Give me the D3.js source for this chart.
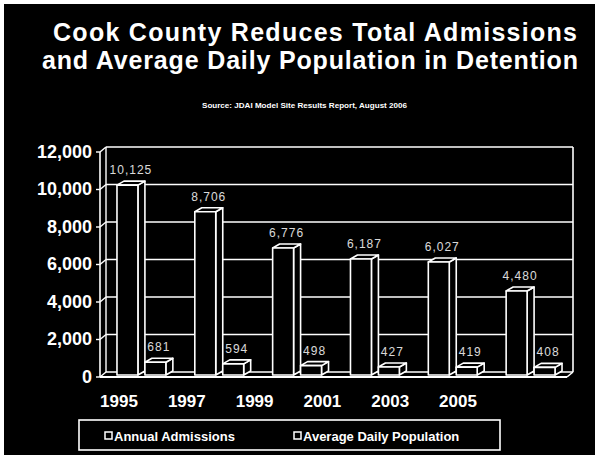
<!DOCTYPE html>
<html>
<head>
<meta charset="utf-8">
<script src="https://cdn.jsdelivr.net/npm/d3@7/dist/d3.min.js"></script>
<style>
  html, body { margin: 0; padding: 0; background: #000; }
  svg { display: block; }
  text { font-family: "Liberation Sans", Arial, sans-serif; fill: #fff; }
</style>
</head>
<body>
<svg id="chart" width="595" height="455"></svg>
<script>
// Cook County detention figures, by year
const years = ["1995", "1997", "1999", "2001", "2003", "2005"];
const admissions = [10125, 8706, 6776, 6187, 6027, 4480];
const avgDaily = [681, 594, 498, 427, 419, 408];
const seriesNames = ["Annual Admissions", "Average Daily Population"];
const yTicks = [0, 2000, 4000, 6000, 8000, 10000, 12000];

const titleLines = [
  "Cook County Reduces Total Admissions",
  "and Average Daily Population in Detention"
];
const sourceNote = "Source: JDAI Model Site Results Report, August 2006";

const svg = d3.select("#chart");
const W = 595, H = 455;

svg.append("rect").attr("width", W).attr("height", H).attr("fill", "#000");
// white page edge along top and left
svg.append("rect").attr("x", 0).attr("y", 0).attr("width", W).attr("height", 4).attr("fill", "#fff");
svg.append("rect").attr("x", 0).attr("y", 0).attr("width", 4).attr("height", H).attr("fill", "#fff");

// Title
const titleSpecs = [{x: 53, w: 524, y: 41}, {x: 42, w: 536, y: 69}];
titleLines.forEach((t, i) => {
  svg.append("text")
    .attr("x", titleSpecs[i].x).attr("y", titleSpecs[i].y)
    .attr("textLength", titleSpecs[i].w).attr("lengthAdjust", "spacing")
    .style("font-size", "25px").style("font-weight", "bold")
    .text(t);
});
svg.append("text")
  .attr("x", 202).attr("y", 108)
  .attr("textLength", 205).attr("lengthAdjust", "spacingAndGlyphs")
  .style("font-size", "8px").style("font-weight", "bold")
  .text(sourceNote);

// 3D geometry: back wall shifted right/up from the front by (dx, dy)
const dx = 6, dy = 5;
const plotL = 106, plotR = 573;

const y = d3.scaleLinear().domain([0, 12000]).range([372, 147]);

const x = d3.scaleBand().domain(years).range([plotL, plotR])
  .paddingInner(0.282).paddingOuter(0.141);
const xs = d3.scaleBand().domain(seriesNames).range([0, x.bandwidth()]);

// front edge of the floor carries the year labels
const xLabel = d3.scalePoint().domain(years).range([119, 458]);

const stroke = "#fff";
const g = svg.append("g");

// back wall gridlines
g.selectAll("line.grid").data(yTicks).join("line")
  .attr("x1", plotL).attr("x2", plotR)
  .attr("y1", d => y(d)).attr("y2", d => y(d))
  .attr("stroke", stroke).attr("stroke-width", 1.6);
// left wall diagonals
g.selectAll("line.wall").data(yTicks).join("line")
  .attr("x1", plotL - dx).attr("x2", plotL)
  .attr("y1", d => y(d) + dy).attr("y2", d => y(d))
  .attr("stroke", stroke).attr("stroke-width", 1.4);
// wall edges
g.append("line").attr("x1", plotL).attr("x2", plotL).attr("y1", y(12000)).attr("y2", y(0))
  .attr("stroke", stroke).attr("stroke-width", 1.4);
g.append("line").attr("x1", plotR).attr("x2", plotR).attr("y1", y(12000)).attr("y2", y(0))
  .attr("stroke", stroke).attr("stroke-width", 1.6);
// front vertical axis
g.append("line").attr("x1", plotL - dx).attr("x2", plotL - dx)
  .attr("y1", y(12000) + dy).attr("y2", y(0) + dy)
  .attr("stroke", stroke).attr("stroke-width", 1.6);
g.selectAll("line.tick").data(yTicks).join("line")
  .attr("x1", plotL - dx - 4).attr("x2", plotL - dx)
  .attr("y1", d => y(d) + dy).attr("y2", d => y(d) + dy)
  .attr("stroke", stroke).attr("stroke-width", 1.4);
// floor
g.append("line").attr("x1", plotL - dx).attr("x2", plotR - dx)
  .attr("y1", y(0) + dy).attr("y2", y(0) + dy)
  .attr("stroke", stroke).attr("stroke-width", 1.8);
g.append("line").attr("x1", plotR - dx).attr("x2", plotR)
  .attr("y1", y(0) + dy).attr("y2", y(0))
  .attr("stroke", stroke).attr("stroke-width", 1.6);

// y axis labels
svg.selectAll("text.ylab").data(yTicks).join("text")
  .attr("x", 92).attr("y", d => y(d) + dy + 1)
  .attr("text-anchor", "end").attr("dominant-baseline", "middle")
  .style("font-size", "18px").style("font-weight", "bold")
  .text(d3.format(","));

// bars as 3D columns
const bw = xs.bandwidth();
const face = bw - 7, bdx = 7, bdy = 4;
const rows = [];
years.forEach((yr, i) => {
  rows.push({year: yr, s: seriesNames[0], v: admissions[i]});
  rows.push({year: yr, s: seriesNames[1], v: avgDaily[i]});
});

const bars = g.selectAll("g.bar").data(rows).join("g").attr("class", "bar");
bars.each(function(d) {
  const x0 = x(d.year) + xs(d.s);
  const yb = y(0) + 3;
  const yt = y(d.v) + 3;
  const sel = d3.select(this);
  const attrs = s => s.attr("fill", "#000").attr("stroke", stroke)
    .attr("stroke-width", 1.6).attr("stroke-linejoin", "round");
  attrs(sel.append("polygon").attr("points", [
    [x0 + face, yt], [x0 + face + bdx, yt - bdy], [x0 + face + bdx, yb - bdy], [x0 + face, yb]
  ].join(" ")));
  attrs(sel.append("polygon").attr("points", [
    [x0, yt], [x0 + bdx, yt - bdy], [x0 + face + bdx, yt - bdy], [x0 + face, yt]
  ].join(" ")));
  attrs(sel.append("rect").attr("x", x0).attr("y", yt)
    .attr("width", face).attr("height", yb - yt));
  sel.append("text")
    .attr("x", x0 + (face + bdx) / 2).attr("y", yt - bdy - 7)
    .attr("text-anchor", "middle")
    .style("font-size", "12px").style("opacity", 0.85)
    .style("letter-spacing", "1px")
    .text(d3.format(",")(d.v));
});

// year labels
svg.selectAll("text.xlab").data(years).join("text")
  .attr("x", d => xLabel(d)).attr("y", 407)
  .attr("text-anchor", "middle")
  .style("font-size", "17px").style("font-weight", "bold")
  .text(d => d);

// legend
const lg = svg.append("g");
lg.append("rect").attr("x", 79).attr("y", 420).attr("width", 421).attr("height", 30)
  .attr("fill", "#000").attr("stroke", stroke).attr("stroke-width", 1.6);
const legendX = [105, 294];
seriesNames.forEach((name, i) => {
  lg.append("rect").attr("x", legendX[i]).attr("y", 432).attr("width", 7).attr("height", 7)
    .attr("fill", "#000").attr("stroke", stroke).attr("stroke-width", 1.5);
  lg.append("text").attr("x", legendX[i] + 9).attr("y", 440.5)
    .style("font-size", "13px").style("font-weight", "bold")
    .text(name);
});
</script>
</body>
</html>
